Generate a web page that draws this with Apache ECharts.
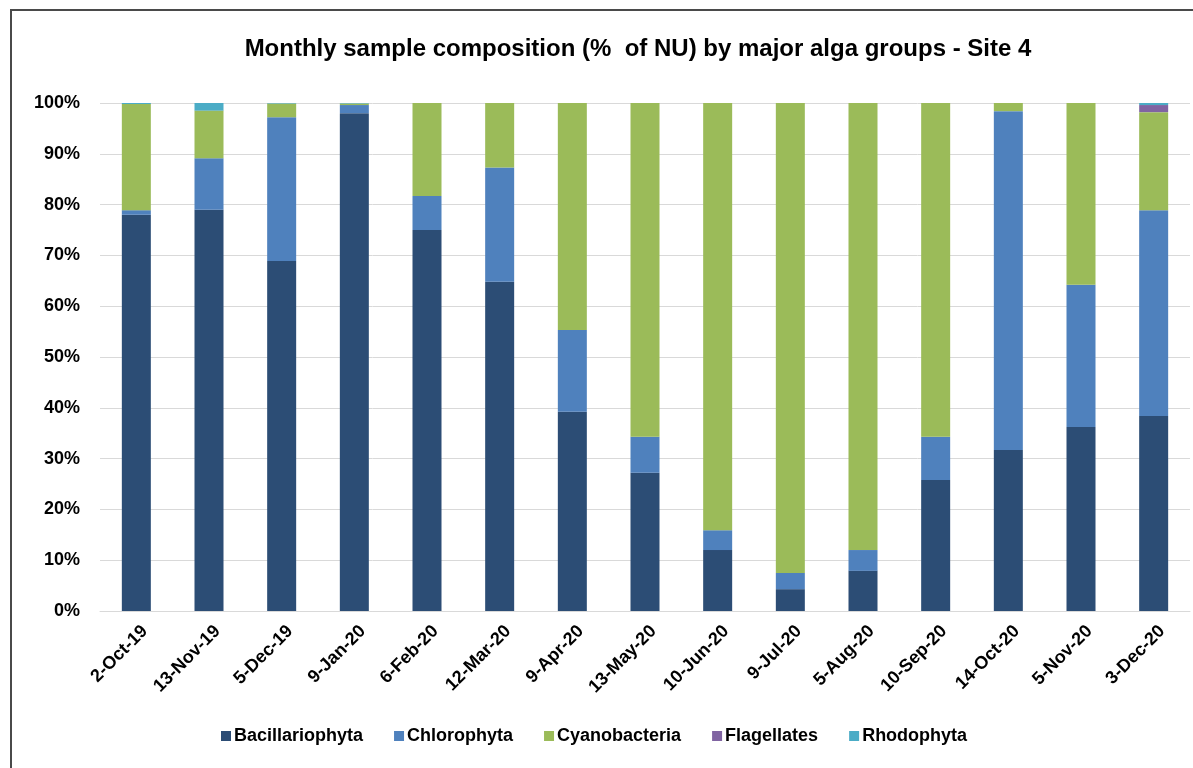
<!DOCTYPE html>
<html>
<head>
<meta charset="utf-8">
<script src="https://cdn.jsdelivr.net/npm/echarts@6/dist/echarts.min.js"></script>
<style>
html,body{margin:0;padding:0;background:#fff;overflow:hidden;}
#wrap{position:relative;width:1193px;height:768px;overflow:hidden;}
#frame{position:absolute;left:10px;top:9px;width:1300px;height:820px;border:2px solid #4a4a4a;box-sizing:border-box;}
#chart{position:absolute;left:0;top:0;width:1193px;height:768px;}
</style>
</head>
<body>
<div id="wrap"><div id="frame"></div><div id="chart"></div></div>
<script>
const categories = ['2-Oct-19','13-Nov-19','5-Dec-19','9-Jan-20','6-Feb-20','12-Mar-20','9-Apr-20','13-May-20','10-Jun-20','9-Jul-20','5-Aug-20','10-Sep-20','14-Oct-20','5-Nov-20','3-Dec-20'];
const bacillariophyta = [78.0, 79.0, 68.9, 98.0, 75.0, 64.8, 39.2, 27.2, 12.0, 4.3, 7.9, 25.8, 31.7, 36.2, 38.4];
const chlorophyta     = [0.9, 10.1, 28.3, 1.6, 6.7, 22.5, 16.1, 7.1, 3.9, 3.2, 4.1, 8.5, 66.7, 28.0, 40.5];
const cyanobacteria   = [20.9, 9.4, 2.7, 0.3, 18.3, 12.7, 44.7, 65.7, 84.1, 92.5, 88.0, 65.7, 1.6, 35.8, 19.3];
const flagellates     = [0, 0, 0, 0, 0, 0, 0, 0, 0, 0, 0, 0, 0, 0, 1.4];
const rhodophyta      = [0.2, 1.5, 0.1, 0.1, 0, 0, 0, 0, 0, 0, 0, 0, 0, 0, 0.4];
const yTicks = [0, 10, 20, 30, 40, 50, 60, 70, 80, 90, 100];

const seriesDefs = [
  ['Bacillariophyta', bacillariophyta, '#2C4D75'],
  ['Chlorophyta', chlorophyta, '#4F81BD'],
  ['Cyanobacteria', cyanobacteria, '#9BBB59'],
  ['Flagellates', flagellates, '#8064A2'],
  ['Rhodophyta', rhodophyta, '#4BACC6']
];

const chart = echarts.init(document.getElementById('chart'), null, {renderer:'canvas'});
const font = 'Arial, "Liberation Sans", sans-serif';
chart.setOption({
  backgroundColor: 'transparent',
  animation: false,
  title: {
    text: 'Monthly sample composition (%  of NU) by major alga groups - Site 4',
    left: 633, top: 32, textAlign: 'center',
    textStyle: {fontFamily: font, fontWeight: 'bold', fontSize: 24, color: '#000'}
  },
  legend: {
    left: 216, top: 722,
    itemWidth: 10, itemHeight: 10, itemGap: 31,
    icon: 'rect',
    textStyle: {fontFamily: font, fontWeight: 'bold', fontSize: 18, color: '#000', padding: [0,0,0,-2]},
    data: seriesDefs.map(s => s[0])
  },
  grid: {left: 100, right: 3, top: 103, bottom: 157, containLabel: false},
  xAxis: {
    type: 'category', data: categories,
    axisLine: {show: true, lineStyle: {color: '#D9D9D9', width: 1}},
    axisTick: {show: false},
    axisLabel: {rotate: 45, interval: 0, margin: 26, padding: [0, -12, 0, 0],
      fontFamily: font, fontWeight: 'bold', fontSize: 18, color: '#000'}
  },
  yAxis: {
    type: 'value', min: 0, max: 100, interval: 10,
    axisLine: {show: false}, axisTick: {show: false},
    splitLine: {lineStyle: {color: '#D9D9D9', width: 1}},
    axisLabel: {margin: 20, fontFamily: font, fontWeight: 'bold', fontSize: 18, color: '#000',
      formatter: v => yTicks.includes(v) ? v + '%' : ''}
  },
  series: seriesDefs.map(s => ({
    name: s[0], type: 'bar', stack: 'total', data: s[1], barWidth: 29,
    itemStyle: {color: s[2]}
  }))
});
</script>
</body>
</html>
